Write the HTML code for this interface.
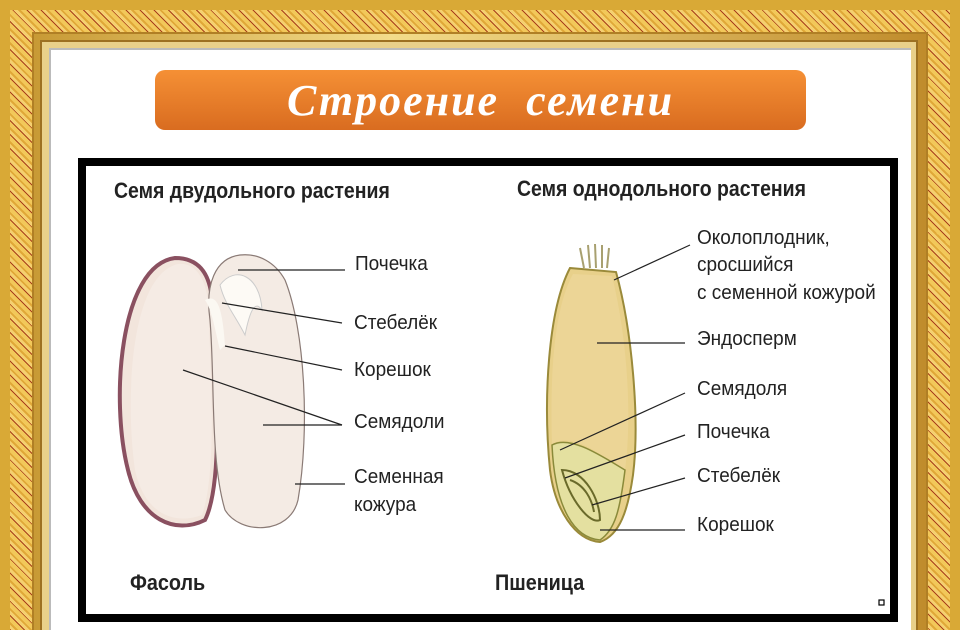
<!DOCTYPE html>
<html><head><meta charset="utf-8"><style>
html,body{margin:0;width:960px;height:630px;overflow:hidden;background:#fff;}
.fr{position:absolute;left:0;top:0;width:960px;height:630px;background:#d9a936;overflow:hidden;}
.hatch{position:absolute;left:10px;top:10px;right:10px;bottom:-20px;background:repeating-linear-gradient(45deg,#f2c85a 0 4px,#a8401c 4px 5px,#f5d070 5px 8px,#e0a838 8px 10px);}
.mold{position:absolute;left:32px;top:32px;right:32px;bottom:-20px;background:linear-gradient(90deg,#c89a35,#f3dc8a 40%,#c08c2c);border:2px solid #b07f25;}
.mold2{position:absolute;left:40px;top:40px;right:42px;bottom:-20px;background:#e9d08a;border:2px solid #9c7022;}
.white{position:absolute;left:49px;top:48px;right:49px;bottom:-20px;background:#fff;border-left:2px solid #bbb;border-top:2px solid #bbb;}
.title{position:absolute;left:155px;top:70px;width:651px;height:60px;border-radius:10px;background:linear-gradient(#f59035,#d96c20);color:#fff;font:italic bold 44px "Liberation Serif",serif;text-align:center;line-height:62px;letter-spacing:2px;word-spacing:14px;}
.box{position:absolute;left:78px;top:158px;width:804px;height:448px;border:8px solid #000;background:#fff;}
</style></head><body>
<div class="fr"><div class="hatch"></div><div class="mold"></div><div class="mold2"></div><div class="white"></div></div>
<div class="title">Строение семени</div>
<div class="box"></div>
<svg width="960" height="630" style="position:absolute;left:0;top:0" font-family="Liberation Sans, sans-serif">
<g font-weight="bold" font-size="22" fill="#222">
<text x="114" y="198" transform="scale(0.885,1)" transform-origin="114 198">Семя двудольного растения</text>
<text x="517" y="196" transform="scale(0.885,1)" transform-origin="517 196">Семя однодольного растения</text>
<text x="130" y="590" transform="scale(0.9,1)" transform-origin="130 590">Фасоль</text>
<text x="495" y="590" transform="scale(0.9,1)" transform-origin="495 590">Пшеница</text>
</g>
<!-- bean -->
<path d="M175,258 C120,265 110,400 128,470 C140,520 175,535 205,520 C225,480 215,360 212,300 C210,275 200,258 175,258Z" fill="#f2e5dc" stroke="#8a5060" stroke-width="4"/>
<path d="M178,264 C130,275 125,400 135,470 C145,515 175,525 202,515 C218,470 210,360 208,300 C205,278 195,262 178,264Z" fill="#f5ebe4"/>
<path d="M240,255 C215,258 205,285 210,320 C215,380 210,460 225,510 C240,535 290,535 298,500 C310,430 305,330 285,280 C275,262 258,253 240,255Z" fill="#f4ebe4" stroke="#8a7a75" stroke-width="1.2"/>
<path d="M220,285 C235,265 260,275 262,310 C255,300 250,310 245,335 C235,315 225,305 220,285Z" fill="#fdfaf5" stroke="#ccc" stroke-width="1"/>
<path d="M205,300 C215,295 222,300 225,345 L220,350 C215,330 212,310 205,300Z" fill="#fbf8f2"/>
<g stroke="#222" stroke-width="1.2">
<line x1="238" y1="270" x2="345" y2="270"/>
<line x1="222" y1="303" x2="342" y2="323"/>
<line x1="225" y1="346" x2="342" y2="370"/>
<line x1="183" y1="370" x2="342" y2="425"/>
<line x1="263" y1="425" x2="342" y2="425"/>
<line x1="295" y1="484" x2="345" y2="484"/>
</g>
<g font-size="20" fill="#222">
<text x="355" y="270" transform="scale(0.95,1)" transform-origin="355 270">Почечка</text>
<text x="354" y="329" transform="scale(0.95,1)" transform-origin="354 329">Стебелёк</text>
<text x="354" y="376" transform="scale(0.95,1)" transform-origin="354 376">Корешок</text>
<text x="354" y="428" transform="scale(0.95,1)" transform-origin="354 428">Семядоли</text>
<text x="354" y="483" transform="scale(0.95,1)" transform-origin="354 483">Семенная</text>
<text x="354" y="511" transform="scale(0.95,1)" transform-origin="354 511">кожура</text>
</g>
<!-- wheat -->
<path d="M580,248 L584,268 M588,245 L590,268 M595,244 L596,268 M602,245 L602,268 M609,248 L607,268" stroke="#a8a070" stroke-width="2"/>
<path d="M570,268 L616,272 C632,330 640,420 633,475 C628,510 620,535 600,542 C575,540 555,510 550,470 C543,400 548,310 570,268Z" fill="#e8d08a" stroke="#9a8a3a" stroke-width="2"/>
<path d="M573,274 L612,276 C628,340 632,420 625,470 C600,455 570,430 552,445 C550,380 553,310 573,274Z" fill="#ecd596"/>
<path d="M552,445 C570,435 600,455 625,470 C620,510 615,530 600,540 C575,538 555,510 552,445Z" fill="#e4e0a0" stroke="#8a8a3a" stroke-width="1.5"/>
<path d="M562,470 C585,470 600,500 600,520 C590,525 570,500 562,470Z M570,480 C585,485 592,500 594,512" fill="none" stroke="#6a6a2a" stroke-width="2"/>
<g stroke="#222" stroke-width="1.2">
<line x1="614" y1="280" x2="690" y2="245"/>
<line x1="597" y1="343" x2="685" y2="343"/>
<line x1="560" y1="450" x2="685" y2="393"/>
<line x1="565" y1="478" x2="685" y2="435"/>
<line x1="592" y1="505" x2="685" y2="478"/>
<line x1="600" y1="530" x2="685" y2="530"/>
</g>
<g font-size="20" fill="#222">
<text x="697" y="244" transform="scale(0.95,1)" transform-origin="697 244">Околоплодник,</text>
<text x="697" y="271" transform="scale(0.95,1)" transform-origin="697 271">сросшийся</text>
<text x="697" y="299" transform="scale(0.95,1)" transform-origin="697 299">с семенной кожурой</text>
<text x="697" y="345" transform="scale(0.95,1)" transform-origin="697 345">Эндосперм</text>
<text x="697" y="395" transform="scale(0.95,1)" transform-origin="697 395">Семядоля</text>
<text x="697" y="438" transform="scale(0.95,1)" transform-origin="697 438">Почечка</text>
<text x="697" y="482" transform="scale(0.95,1)" transform-origin="697 482">Стебелёк</text>
<text x="697" y="531" transform="scale(0.95,1)" transform-origin="697 531">Корешок</text>
</g>
<rect x="879" y="600" width="5" height="5" fill="none" stroke="#000" stroke-width="1.2"/>
</svg>
</body></html>
